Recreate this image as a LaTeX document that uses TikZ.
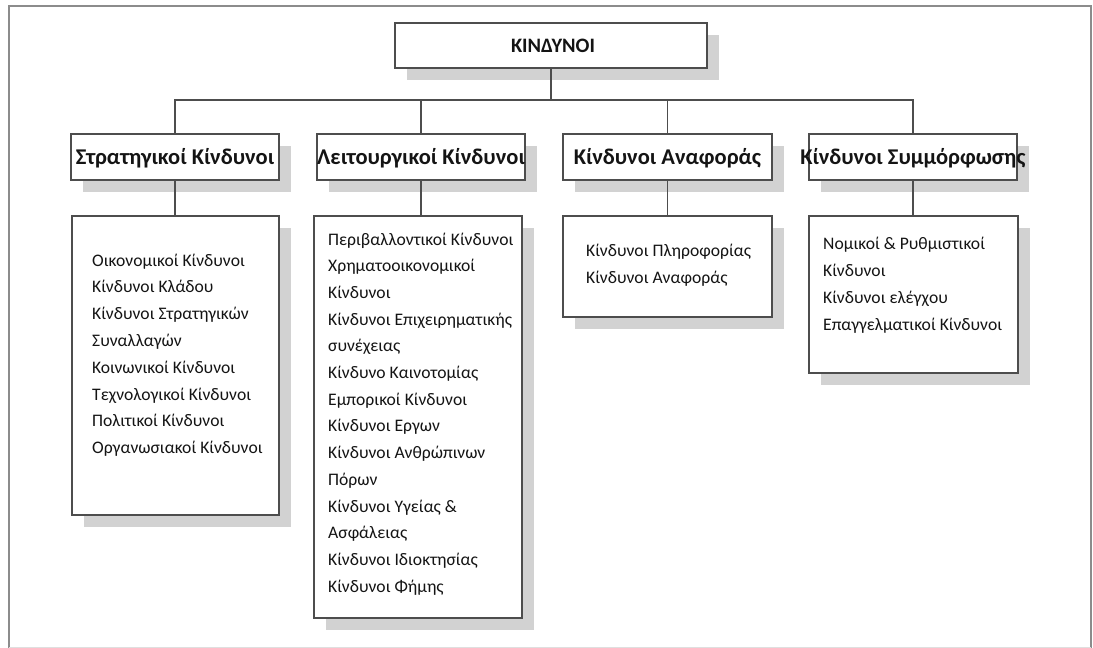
\documentclass[tikz,border=0pt]{standalone}
\usepackage{fontspec}
\setmainfont{Carlito}
\usetikzlibrary{shadows}
\definecolor{boxline}{HTML}{4D4D4D}
\definecolor{shadowgray}{HTML}{D2D2D2}
\definecolor{inkgray}{HTML}{141414}
\definecolor{framegray}{HTML}{8C8C8C}
\begin{document}
\begin{tikzpicture}[x=1pt,y=-1pt,
  box/.style={draw=boxline, line width=1.2pt, fill=white, inner sep=0pt,
    drop shadow={shadow xshift=11.5pt, shadow yshift=-11.5pt, fill=shadowgray, opacity=1}},
  headtext/.style={text=inkgray, font=\bfseries\fontsize{20.5}{24}\selectfont},
  grouptext/.style={text=inkgray, font=\bfseries\fontsize{22.5}{27}\selectfont},
  listtext/.style={text=inkgray, inner sep=0pt, anchor=base west,
    font=\fontsize{17.6}{26.8}\selectfont},
  conn/.style={draw=boxline, line width=1.2pt}]
\useasboundingbox (0,0) rectangle (1093,648);
% page frame
\draw[framegray, line width=2pt] (9,648) -- (9,6) -- (1091,6) -- (1091,648);
\draw[gray!25, line width=1pt] (9,647.5) -- (1091,647.5);

% root
\node[box, minimum width=312pt, minimum height=45pt] (root) at (551,45.5) {};
\node[headtext] (roottext) at (553,46) {ΚΙΝΔΥΝΟΙ};

% category boxes
\node[box, minimum width=208pt, minimum height=46pt] (strat) at (175,157) {};
\node[box, minimum width=208pt, minimum height=46pt] (oper) at (421,157) {};
\node[box, minimum width=209pt, minimum height=46pt] (report) at (667.5,157) {};
\node[box, minimum width=208pt, minimum height=46pt] (comp) at (913,157) {};
\node[grouptext] (strattext) at (175,158) {Στρατηγικοί Κίνδυνοι};
\node[grouptext] (opertext) at (421,158) {Λειτουργικοί Κίνδυνοι};
\node[grouptext] (reporttext) at (667.5,158) {Κίνδυνοι Αναφοράς};
\node[grouptext] (comptext) at (913,158) {Κίνδυνοι Συμμόρφωσης};

% list boxes
\node[box, minimum width=207pt, minimum height=299pt] (stratlist) at (175.5,365.5) {};
\node[box, minimum width=208pt, minimum height=402pt] (operlist) at (418,417) {};
\node[box, minimum width=209pt, minimum height=101pt] (reportlist) at (667.5,266.5) {};
\node[box, minimum width=209pt, minimum height=157pt] (complist) at (913.5,294.5) {};

\node[listtext] (stratitems) at (92,266) {\parbox[t]{260pt}{\raggedright\baselineskip=26.8pt
Οικονομικοί Κίνδυνοι\\
Κίνδυνοι Κλάδου\\
Κίνδυνοι Στρατηγικών\\
Συναλλαγών\\
Κοινωνικοί Κίνδυνοι\\
Τεχνολογικοί Κίνδυνοι\\
Πολιτικοί Κίνδυνοι\\
Οργανωσιακοί Κίνδυνοι\par}};

\node[listtext] (operitems) at (328,245) {\parbox[t]{260pt}{\raggedright\baselineskip=26.7pt
Περιβαλλοντικοί Κίνδυνοι\\
Χρηματοοικονομικοί\\
Κίνδυνοι\\
Κίνδυνοι Επιχειρηματικής\\
συνέχειας\\
Κίνδυνο Καινοτομίας\\
Εμπορικοί Κίνδυνοι\\
Κίνδυνοι Εργων\\
Κίνδυνοι Ανθρώπινων\\
Πόρων\\
Κίνδυνοι Υγείας \&\\
Ασφάλειας\\
Κίνδυνοι Ιδιοκτησίας\\
Κίνδυνοι Φήμης\par}};

\node[listtext] (reportitems) at (586,256) {\parbox[t]{260pt}{\raggedright\baselineskip=27pt
Κίνδυνοι Πληροφορίας\\
Κίνδυνοι Αναφοράς\par}};

\node[listtext] (compitems) at (823,249) {\parbox[t]{260pt}{\raggedright\baselineskip=27.3pt
Νομικοί \& Ρυθμιστικοί\\
Κίνδυνοι\\
Κίνδυνοι ελέγχου\\
Επαγγελματικοί Κίνδυνοι\par}};

% connectors
\coordinate (bus) at (551,100);
\draw[conn] (root.south) -- (bus);
\draw[conn] (strat.north) |- (bus) -| (comp.north);
\draw[conn] (oper.north) -- (oper.north |- bus);
\draw[conn] (report.north) -- (report.north |- bus);
\draw[conn] (strat.south) -- (strat.south |- stratlist.north);
\draw[conn] (oper.south) -- (oper.south |- operlist.north);
\draw[conn] (report.south) -- (report.south |- reportlist.north);
\draw[conn] (comp.south) -- (comp.south |- complist.north);
\end{tikzpicture}
\end{document}
